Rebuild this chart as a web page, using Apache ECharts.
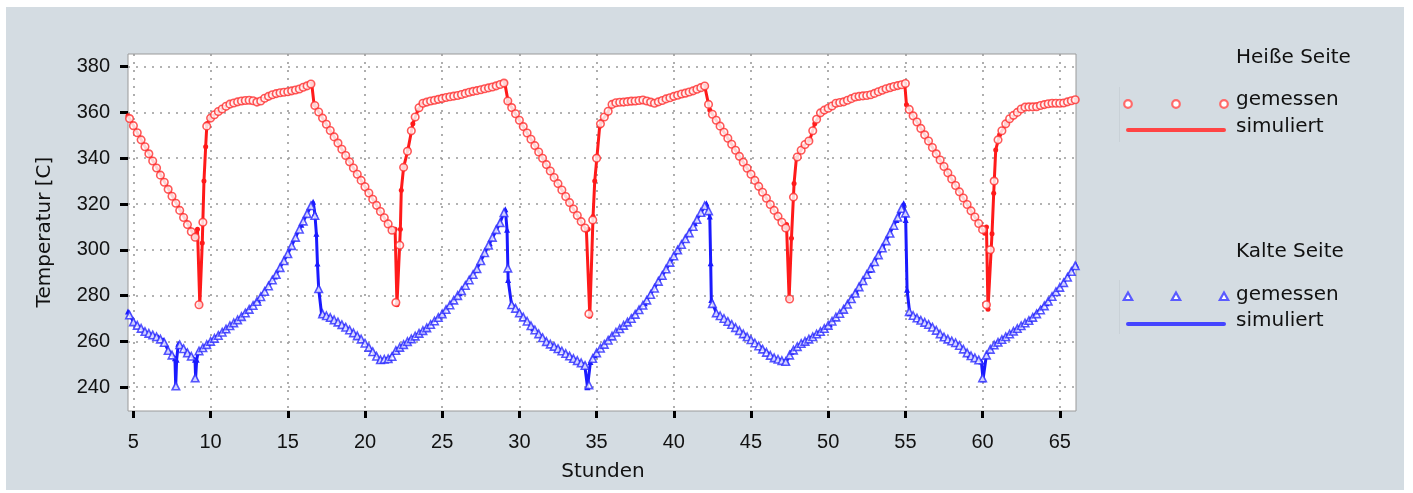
<!DOCTYPE html>
<html><head><meta charset="utf-8">
<script src="https://cdn.jsdelivr.net/npm/echarts@6/dist/echarts.min.js"></script>
<style>
html,body{margin:0;padding:0;background:#fff;}
#bg{position:absolute;left:6px;top:7px;width:1398px;height:483px;background:#d4dce2;}
#chart{position:absolute;left:0;top:0;width:1413px;height:493px;}
</style></head><body>
<div id="bg"></div><div id="chart"></div>
<script>
// ---------- data ----------
const xTicks = [5, 10, 15, 20, 25, 30, 35, 40, 45, 50, 55, 60, 65];
const yTicks = [240, 260, 280, 300, 320, 340, 360, 380];
const xTitle = 'Stunden';
const yTitle = 'Temperatur [C]';
const legendHot = 'Heiße Seite';
const legendCold = 'Kalte Seite';
const labelMeasured = 'gemessen';
const labelSimulated = 'simuliert';

// simulated (line) – [hour, °C]
const hotSimulated = [
  [4.65,358.5],[9.0,305.5],[9.15,309],[9.3,276],[9.46,303],[9.57,330],[9.68,345],[9.76,355],[10.0,357.5],
  [10.5,360.4],[11.14,363.3],[12.0,365],[12.65,365.4],[13.08,364.3],[13.73,367],[14.37,368.5],[15.0,369],
  [15.67,370],[16.2,371.5],[16.55,372.5],[16.7,363.5],
  [21.8,308],[21.95,309],[22.07,276],[22.29,309],[22.35,326],[22.5,336],[22.79,344],[23.1,355],[23.43,361],
  [23.65,363.7],[24.4,365.2],[25.27,366.5],[26.13,367.6],[26.78,368.9],[27.65,370.1],[28.5,371.6],[29.05,373],[29.27,364.7],
  [34.34,308.5],[34.45,309],[34.56,271],[34.77,314.5],[34.88,330],[35.03,341],[35.2,354],[35.3,356],[35.63,359],
  [36.06,364],[37.04,364.7],[38.0,365.4],[38.77,364],[39.42,365.7],[40.28,367.6],[41.14,369.1],[42.0,371.5],[42.33,361],
  [47.19,310],[47.3,311],[47.47,278.5],[47.62,305],[47.79,329],[47.94,340],[48.37,345],[48.81,348],[49.13,355],
  [49.56,360.3],[50.1,362],[50.5,364],[50.96,364.5],[51.82,366.9],[52.69,367.6],[53.55,369.8],[54.42,371.5],[54.96,372.5],[55.07,363.3],
  [60.14,307.2],[60.25,310],[60.35,274],[60.61,307],[60.72,324.7],[60.85,343.6],[61.1,350.2],[61.54,355.3],[62.19,359.6],
  [62.62,362.2],[63.49,362.5],[64.35,364],[65.2,364],[66.05,365.5]
];
const coldSimulated = [
  [4.65,273],[5.0,268.5],[5.75,264.3],[6.62,261.8],[6.94,260.5],[7.26,256],[7.69,252.6],[7.74,240.5],[7.8,252],
  [7.91,259],[8.45,255.5],[8.99,252],[9.03,244],[9.1,252],[9.2,255.5],[9.85,259.2],[10.93,265],[12.0,270.8],
  [13.08,278],[14.16,288.3],[15.02,298.5],[15.88,310.9],[16.64,321],[16.75,316],[16.85,307],[16.92,294],[17.0,283],
  [17.18,272.3],[17.82,270.1],[18.69,266.5],[19.55,262.1],[20.3,257],[20.95,252],[21.6,252.6],[22.03,256.3],
  [22.89,260.6],[23.97,265.7],[25.05,272.3],[26.13,281],[27.21,291.2],[28.08,302.9],[28.73,311.6],[29.09,317.7],
  [29.2,308.7],[29.27,286.8],[29.48,276.6],[30.02,272.3],[30.89,265.7],[31.75,259.9],[32.61,256.3],[33.48,252.6],
  [34.23,249.7],[34.41,240],[34.6,251],[34.88,254],[35.96,262.1],[37.04,268.6],[38.12,276.7],[39.2,288.3],
  [40.28,299.9],[41.36,311.6],[42.11,320.3],[42.33,314.5],[42.39,294.1],[42.43,278.1],[42.76,272.3],[43.51,268.6],
  [44.59,262.8],[45.68,257],[46.54,252.6],[47.3,251.2],[47.62,255.5],[48.27,259.2],[49.35,263.6],[50.1,267.5],
  [50.96,273.7],[51.82,281.7],[52.69,291.2],[53.55,301.4],[54.42,313],[54.89,320.3],[55.02,313],[55.11,282.5],
  [55.28,272.3],[55.93,269.4],[56.58,267.2],[57.44,262.1],[58.3,259.2],[59.16,254.1],[59.92,251.2],[60.03,243.5],
  [60.25,254.1],[60.9,259.2],[61.98,264.3],[63.06,269.4],[64.14,276.7],[65.22,285.4],[66.05,293.5]
];

// measured – one sample every 15 minutes starting at 4.75 h
const measStart = 4.75;
const measStep = 0.25;
const hotMeasured = [
  357.3,
  354.2,351.1,348.0,345.0, 341.9,338.8,335.7,332.6, 329.5,326.4,323.4,320.3, 317.2,314.1,311.0,307.9,
  305.5,276,312,354, 357.5,359,360.4,361.5, 362.7,363.6,364.1,364.6, 365,365.2,365.3,365.1,
  364.5,365,366.2,367, 367.7,368.2,368.6,368.8, 369,369.4,369.8,370.2, 371,371.6,372.4,363,
  360.2,357.5,354.8,352.1, 349.3,346.6,343.9,341.2, 338.4,335.7,333.0,330.3, 327.5,324.8,322.1,319.4,
  316.7,314.0,311.3,308.5, 277,302,336,343, 352,358,362,364, 364.5,365,365.3,365.7,
  366.1,366.5,366.8,367.1, 367.4,367.8,368.3,368.8, 369.2,369.5,369.9,370.3, 370.7,371.1,371.6,372.2,
  372.8,365,362.1,359.4, 356.6,353.8,351.0,348.3, 345.5,342.7,340.0,337.2, 334.4,331.6,328.9,326.1,
  323.3,320.6,317.8,315.0, 312.3,309.5,272,313, 340,355,358,360.5, 363.5,364.2,364.4,364.5,
  364.7,364.9,365.0,365.2, 365.4,365.0,364.5,364.0, 364.6,365.2,365.9,366.4, 367.0,367.5,368.0,368.4,
  368.9,369.4,370.1,370.8, 371.5,363.5,359.2,356.6, 354.0,351.3,348.7,346.1, 343.5,340.8,338.2,335.6,
  333.0,330.3,327.7,325.1, 322.5,319.8,317.2,314.6, 312.0,309.5,278.5,323, 340.5,343.5,346,347.5,
  352,357,359.8,361, 361.8,362.8,364,364.3, 364.6,365.3,366,366.7, 367,367.2,367.4,367.7,
  368.3,369,369.7,370.3, 370.8,371.3,371.7,372.1, 372.6,361.3,358.5,355.8, 353.0,350.2,347.5,344.7,
  341.9,339.2,336.4,333.6, 330.9,328.1,325.3,322.6, 319.8,317.0,314.3,311.5, 308.8,276,300,330,
  348,352,355,357.2, 358.7,360,361.5,362.3, 362.4,362.4,362.5,363, 363.4,363.8,364,364,
  364,364.1,364.6,365.1, 365.5
];
const coldMeasured = [
  271.5,
  268.5,267,265.7,264.3, 263.5,262.8,262,261, 259.5,256,254,240.5, 258.5,256.8,255,253.5,
  244,255.8,257.2,258.6, 260,261.3,262.6,264, 265.4,266.8,268.1,269.4, 270.8,272.4,274,275.7,
  277.4,279.5,281.8,284.2, 286.8,289.2,292.2,295.2, 298.3,301.8,305.4,309, 312.5,315.8,319.2,315,
  283,272,271.2,270.4, 269.4,268.4,267.3,266.2, 265,263.7,262.4,261, 259.2,257.4,255.5,253.5,
  252,252.2,252.4,253.4, 256,257.4,258.6,259.9, 261.1,262.3,263.5,264.7, 265.9,267.4,268.9,270.4,
  272,273.9,275.9,278, 280,282.1,284.4,286.8, 289.2,291.7,295.2,298.7, 302,305.4,308.8,311.8,
  316.2,292,276,274.4, 272.4,270.6,268.8,266.8, 265,263.3,261.6,259.9, 258.8,257.8,256.8,255.8,
  254.7,253.6,252.5,251.6, 250.6,249.5,241,252.5, 255,257,258.7,260.5, 262.3,264,265.5,267,
  268.4,270,271.8,273.8, 275.8,278,280.5,283.2, 286.2,288.8,291.6,294.5, 297.3,299.9,302.3,304.8,
  307.4,310.2,313.2,316.3, 319.2,317,276.5,272.4, 271.2,270,268.7,267.4, 266,264.7,263.3,262,
  260.7,259.3,258,256.6, 255.2,253.9,252.8,252.2, 251.6,251.2,254,256.2, 257.7,259.1,260,261,
  262,263.2,264.3,265.6, 267,268.8,270.6,272.2, 274,276.2,278.6,281, 283.8,286.5,289.2,292,
  294.8,297.8,300.8,303.9, 307.2,310.6,314.2,318, 316,273,271.3,270.2, 269.2,268.3,267.4,266.2,
  264.8,263.3,261.9,261, 260.2,259.4,258.2,256.6, 255,253.7,252.8,251.9, 244,254,256.5,258.4,
  259.6,260.8,262,263.2, 264.4,265.6,266.8,268, 269.1,270.5,272,273.7, 275.5,277.5,279.6,281.7,
  283.6,285.6,288,290.5, 293
];

// ---------- styles ----------
const HOT_LINE = '#ff1a1a', HOT_MARK = '#ff2e2e', HOT_LEG = '#ff6a6a';
const COLD_LINE = '#1a1aff', COLD_MARK = '#2a2aff', COLD_LEG = '#5a5aff';
const TXT = '#111';
const TEXT_FONT = '"DejaVu Sans", sans-serif';
const TICK_FONT = '"Liberation Sans", Arial, sans-serif';

const toPairs = arr => arr.map((v, i) => [measStart + i * measStep, v]);

const chart = echarts.init(document.getElementById('chart'), null, {renderer: 'canvas'});

const dotted = {color: '#9a9a9a', width: 1.6, type: [2, 6]};

function legendMarkers(kind, y, color) {
  const xs = [1128, 1176, 1224];
  return xs.map(x => kind === 'circle'
    ? {type: 'circle', shape: {cx: x, cy: y, r: 3.8}, style: {fill: '#fff', stroke: color, lineWidth: 2.2}}
    : {type: 'polygon', shape: {points: [[x, y - 4.5], [x + 4.2, y + 3], [x - 4.2, y + 3]]}, style: {fill: '#fff', stroke: color, lineWidth: 2.2}});
}
function txt(x, y, s, extra) {
  return Object.assign({type: 'text', x: x, y: y,
    style: {text: s, fill: TXT, font: '20px ' + TEXT_FONT, textAlign: 'left', textVerticalAlign: 'middle'}}, extra || {});
}

const option = {
  animation: false,
  backgroundColor: 'transparent',
  grid: {left: 128, top: 54, width: 948, height: 357, show: true,
         backgroundColor: '#fff', borderColor: '#9a9a9a', borderWidth: 1, containLabel: false},
  xAxis: {
    type: 'value', min: 4.65, max: 66.05,
    axisLine: {show: false},
    axisTick: {show: true, customValues: xTicks, length: 7, inside: false, lineStyle: {color: '#000', width: 3}},
    axisLabel: {customValues: xTicks, margin: 21, color: TXT, fontSize: 20, fontFamily: TICK_FONT},
    splitLine: {show: true, lineStyle: dotted}
  },
  yAxis: {
    type: 'value', min: 229.6, max: 385.5,
    axisLine: {show: false},
    axisTick: {show: true, customValues: yTicks, length: 8, inside: false, lineStyle: {color: '#000', width: 3}},
    axisLabel: {customValues: yTicks, margin: 18, color: TXT, fontSize: 20, fontFamily: TICK_FONT},
    splitLine: {show: true, lineStyle: dotted}
  },
  series: [
    {name: 'hotSim', type: 'line', data: hotSimulated, z: 2, symbol: 'circle', symbolSize: 5, showSymbol: true,
     lineStyle: {color: HOT_LINE, width: 3}, itemStyle: {color: HOT_LINE}},
    {name: 'coldSim', type: 'line', data: coldSimulated, z: 2, symbol: 'triangle', symbolSize: 6, showSymbol: true,
     lineStyle: {color: COLD_LINE, width: 3}, itemStyle: {color: COLD_LINE}},
    {name: 'hotMeas', type: 'scatter', data: toPairs(hotMeasured), z: 3, symbol: 'circle', symbolSize: 7.5,
     itemStyle: {color: '#fff', borderColor: HOT_MARK, borderWidth: 1.6}},
    {name: 'coldMeas', type: 'scatter', data: toPairs(coldMeasured), z: 3, symbol: 'triangle', symbolSize: 7.5,
     itemStyle: {color: '#fff', borderColor: COLD_MARK, borderWidth: 1.6}}
  ],
  graphic: [].concat(
    [
      {type: 'text', x: 45, y: 232, rotation: Math.PI / 2,
       style: {text: yTitle, fill: TXT, font: '20px ' + TEXT_FONT, textAlign: 'center', textVerticalAlign: 'middle'}},
      {type: 'text', x: 603, y: 472,
       style: {text: xTitle, fill: TXT, font: '20px ' + TEXT_FONT, textAlign: 'center', textVerticalAlign: 'middle'}},
      txt(1236, 58, legendHot),
      txt(1236, 100, labelMeasured),
      txt(1236, 127, labelSimulated),
      {type: 'line', shape: {x1: 1128, y1: 130, x2: 1224, y2: 130}, style: {stroke: '#ff4444', lineWidth: 4, lineCap: 'round'}},
      {type: 'line', shape: {x1: 1119.5, y1: 87, x2: 1119.5, y2: 142}, style: {stroke: '#c9d1d7', lineWidth: 1}},
      txt(1236, 252, legendCold),
      txt(1236, 295, labelMeasured),
      txt(1236, 321, labelSimulated),
      {type: 'line', shape: {x1: 1128, y1: 324, x2: 1224, y2: 324}, style: {stroke: '#4444ff', lineWidth: 4, lineCap: 'round'}},
      {type: 'line', shape: {x1: 1119.5, y1: 280, x2: 1119.5, y2: 334}, style: {stroke: '#c9d1d7', lineWidth: 1}}
    ],
    legendMarkers('circle', 104, HOT_LEG),
    legendMarkers('triangle', 297, COLD_LEG)
  )
};
chart.setOption(option);
</script>
</body></html>
